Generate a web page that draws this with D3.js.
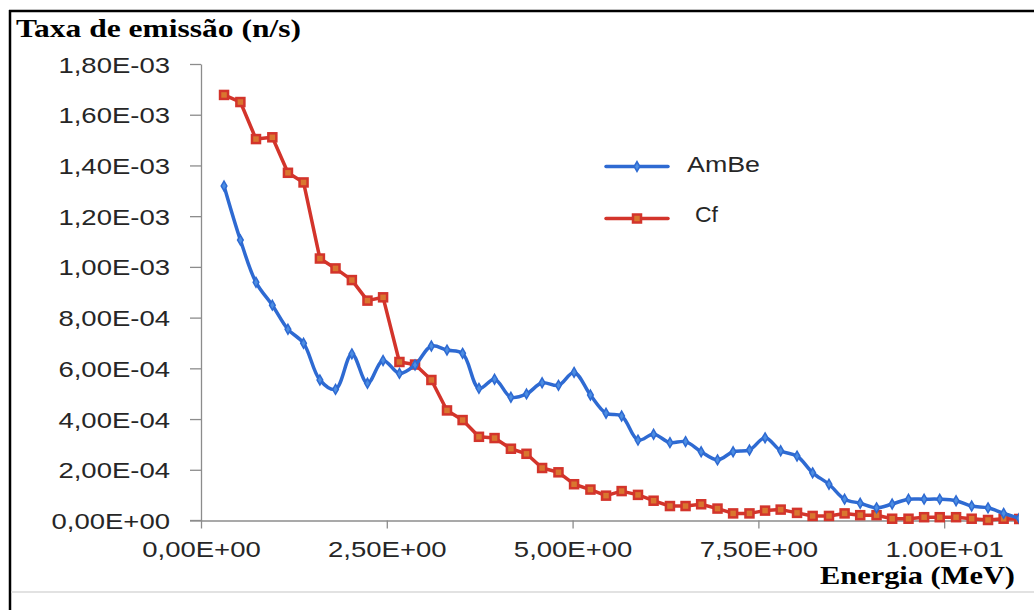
<!DOCTYPE html>
<html>
<head>
<meta charset="utf-8">
<script src="https://cdn.jsdelivr.net/npm/d3@7/dist/d3.min.js"></script>
<style>
  html, body { margin: 0; padding: 0; background: #fff; }
  svg { display: block; }
</style>
</head>
<body>
<svg id="chart" width="1034" height="610"></svg>
<script>
// ---- data ----
const energies = [0.31, 0.53, 0.74, 0.96, 1.17, 1.38, 1.60, 1.81, 2.03, 2.24,
  2.45, 2.67, 2.88, 3.10, 3.31, 3.52, 3.74, 3.95, 4.17, 4.38,
  4.59, 4.81, 5.02, 5.24, 5.45, 5.66, 5.88, 6.09, 6.31, 6.52,
  6.73, 6.95, 7.16, 7.38, 7.59, 7.80, 8.02, 8.23, 8.45, 8.66,
  8.87, 9.09, 9.30, 9.52, 9.73, 9.94, 10.16, 10.37, 10.59, 10.80, 11.01];

const amBe = [1.319e-3, 1.106e-3, 0.939e-3, 0.849e-3, 0.754e-3, 0.699e-3, 0.554e-3, 0.517e-3, 0.657e-3, 0.541e-3,
  0.631e-3, 0.580e-3, 0.613e-3, 0.688e-3, 0.672e-3, 0.659e-3, 0.521e-3, 0.557e-3, 0.486e-3, 0.499e-3,
  0.543e-3, 0.533e-3, 0.584e-3, 0.495e-3, 0.423e-3, 0.412e-3, 0.317e-3, 0.340e-3, 0.307e-3, 0.311e-3,
  0.271e-3, 0.239e-3, 0.271e-3, 0.278e-3, 0.326e-3, 0.275e-3, 0.254e-3, 0.188e-3, 0.143e-3, 0.084e-3,
  0.068e-3, 0.050e-3, 0.065e-3, 0.084e-3, 0.084e-3, 0.084e-3, 0.078e-3, 0.057e-3, 0.050e-3, 0.028e-3, 0.009e-3];

const cf = [1.678e-3, 1.650e-3, 1.504e-3, 1.511e-3, 1.371e-3, 1.333e-3, 1.033e-3, 0.994e-3, 0.948e-3, 0.867e-3,
  0.880e-3, 0.625e-3, 0.615e-3, 0.554e-3, 0.434e-3, 0.396e-3, 0.330e-3, 0.325e-3, 0.283e-3, 0.263e-3,
  0.207e-3, 0.190e-3, 0.143e-3, 0.122e-3, 0.098e-3, 0.116e-3, 0.101e-3, 0.078e-3, 0.057e-3, 0.057e-3,
  0.064e-3, 0.047e-3, 0.028e-3, 0.028e-3, 0.039e-3, 0.043e-3, 0.030e-3, 0.018e-3, 0.018e-3, 0.028e-3,
  0.021e-3, 0.021e-3, 0.007e-3, 0.007e-3, 0.013e-3, 0.013e-3, 0.013e-3, 0.007e-3, 0.002e-3, 0.007e-3, 0.006e-3];

const seriesNames = ["AmBe", "Cf"];
const yTickValues = [0, 2e-4, 4e-4, 6e-4, 8e-4, 1e-3, 1.2e-3, 1.4e-3, 1.6e-3, 1.8e-3];
const yTickLabels = ["0,00E+00", "2,00E-04", "4,00E-04", "6,00E-04", "8,00E-04",
  "1,00E-03", "1,20E-03", "1,40E-03", "1,60E-03", "1,80E-03"];
const xTickValues = [0, 2.5, 5, 7.5, 10];
const xTickLabels = ["0,00E+00", "2,50E+00", "5,00E+00", "7,50E+00", "1.00E+01"];
const yTitle = "Taxa de emissão (n/s)";
const xTitle = "Energia (MeV)";

// ---- layout ----
const svg = d3.select("#chart");
const plotLeft = 201, plotRight = 1018.5, plotTop = 64, plotBottom = 520.5;
const x = d3.scaleLinear().domain([0, 11]).range([plotLeft, plotRight]);
const y = d3.scaleLinear().domain([0, 1.8e-3]).range([plotBottom, plotTop]);

const blue = "#2E6AD2", red = "#D3342B";
const axisColor = "#8c8c8c";
const sansFont = "'Liberation Sans', Arial, sans-serif";
const serifFont = "'Liberation Serif', 'Times New Roman', serif";
const stretch = 1.25;

// frame
svg.append("line").attr("x1", 9).attr("x2", 1034).attr("y1", 11).attr("y2", 11)
  .attr("stroke", "#000").attr("stroke-width", 2.5);
svg.append("line").attr("x1", 10).attr("x2", 10).attr("y1", 10).attr("y2", 610)
  .attr("stroke", "#000").attr("stroke-width", 2.5);
svg.append("line").attr("x1", 11).attr("x2", 1034).attr("y1", 592).attr("y2", 592)
  .attr("stroke", "#d9d9d9").attr("stroke-width", 1.5);

// y axis
const yAxis = svg.append("g").attr("transform", `translate(${plotLeft},0)`)
  .call(d3.axisLeft(y).tickValues(yTickValues).tickSize(11).tickSizeOuter(0)
    .tickFormat((d, i) => yTickLabels[i]));
yAxis.select(".domain").attr("stroke", axisColor).attr("stroke-width", 1.3);
yAxis.selectAll(".tick line").attr("stroke", axisColor).attr("stroke-width", 1.3);
yAxis.selectAll(".tick text")
  .attr("font-family", sansFont).attr("font-size", 22).attr("fill", "#262626")
  .attr("x", -31 / stretch).attr("dy", null).attr("y", 8)
  .attr("transform", `scale(${stretch},1)`);

// x axis
const xAxis = svg.append("g").attr("transform", `translate(0,${plotBottom})`)
  .call(d3.axisBottom(x).tickValues(xTickValues).tickSize(8).tickSizeOuter(0)
    .tickFormat((d, i) => xTickLabels[i]));
xAxis.select(".domain").attr("stroke", axisColor).attr("stroke-width", 1.3);
xAxis.selectAll(".tick line").attr("stroke", axisColor).attr("stroke-width", 1.3);
xAxis.selectAll(".tick text")
  .attr("font-family", sansFont).attr("font-size", 22).attr("fill", "#262626")
  .attr("dy", null).attr("y", 36.5)
  .attr("transform", `scale(${stretch},1)`);
svg.append("line").attr("x1", 190).attr("x2", plotLeft).attr("y1", plotBottom).attr("y2", plotBottom)
  .attr("stroke", axisColor).attr("stroke-width", 1.3);

// clip
svg.append("clipPath").attr("id", "plotclip").append("rect")
  .attr("x", plotLeft - 10).attr("y", 0).attr("width", 1019 - plotLeft + 10).attr("height", 600);

const plot = svg.append("g").attr("clip-path", "url(#plotclip)");

const dataAmBe = energies.map((e, i) => ({ e, v: amBe[i] }));
const dataCf = energies.map((e, i) => ({ e, v: cf[i] }));

const lineSmooth = d3.line().x(d => x(d.e)).y(d => y(d.v)).curve(d3.curveCatmullRom.alpha(0.5));
const lineStraight = d3.line().x(d => x(d.e)).y(d => y(d.v));

// Cf series
plot.append("path").datum(dataCf).attr("d", lineStraight)
  .attr("fill", "none").attr("stroke", red).attr("stroke-width", 3.5).attr("stroke-linejoin", "round");
plot.selectAll(".mcf").data(dataCf).enter().append("rect")
  .attr("x", d => x(d.e) - 4).attr("y", d => y(d.v) - 4)
  .attr("width", 8).attr("height", 8)
  .attr("fill", "#D9762F").attr("stroke", red).attr("stroke-width", 2.5);

// AmBe series
plot.append("path").datum(dataAmBe).attr("d", lineSmooth)
  .attr("fill", "none").attr("stroke", blue).attr("stroke-width", 3.5).attr("stroke-linejoin", "round");
const diamond = d3.symbol().type(d3.symbolDiamond).size(28);
plot.selectAll(".mab").data(dataAmBe).enter().append("path")
  .attr("d", diamond)
  .attr("transform", d => `translate(${x(d.e)},${y(d.v)})`)
  .attr("fill", "#4d8ee3").attr("stroke", blue).attr("stroke-width", 1.5);

// legend
const lg = svg.append("g");
lg.append("line").attr("x1", 606).attr("x2", 668).attr("y1", 166.5).attr("y2", 166.5)
  .attr("stroke", blue).attr("stroke-width", 3.5).attr("stroke-linecap", "round");
lg.append("path").attr("d", diamond).attr("transform", "translate(637,166.5)")
  .attr("fill", "#4d8ee3").attr("stroke", blue).attr("stroke-width", 1.5);
lg.append("text").attr("x", 687).attr("y", 172).text(seriesNames[0])
  .attr("font-family", sansFont).attr("font-size", 22).attr("fill", "#262626")
  .attr("textLength", 73).attr("lengthAdjust", "spacingAndGlyphs");
lg.append("line").attr("x1", 606).attr("x2", 668).attr("y1", 218.5).attr("y2", 218.5)
  .attr("stroke", red).attr("stroke-width", 3.5).attr("stroke-linecap", "round");
lg.append("rect").attr("x", 633).attr("y", 214.5).attr("width", 8).attr("height", 8)
  .attr("fill", "#D9762F").attr("stroke", red).attr("stroke-width", 2.5);
lg.append("text").attr("x", 695).attr("y", 222).text(seriesNames[1])
  .attr("font-family", sansFont).attr("font-size", 22).attr("fill", "#262626")
  .attr("textLength", 23).attr("lengthAdjust", "spacingAndGlyphs");

// titles
svg.append("text").attr("x", 16).attr("y", 37).text(yTitle)
  .attr("font-family", serifFont).attr("font-weight", "bold").attr("font-size", 26)
  .attr("fill", "#000").attr("textLength", 285).attr("lengthAdjust", "spacingAndGlyphs");
svg.append("text").attr("x", 820).attr("y", 584).text(xTitle)
  .attr("font-family", serifFont).attr("font-weight", "bold").attr("font-size", 26)
  .attr("fill", "#000").attr("textLength", 195).attr("lengthAdjust", "spacingAndGlyphs");
</script>
</body>
</html>
